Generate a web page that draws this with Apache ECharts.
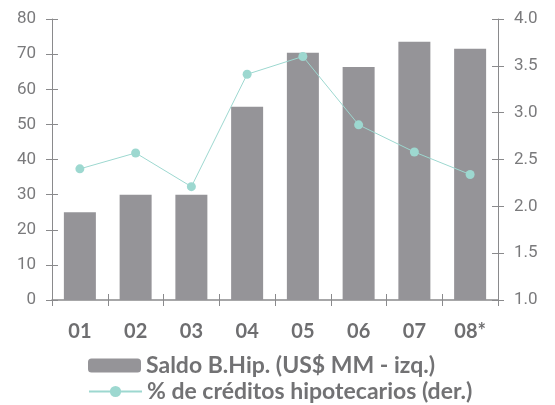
<!DOCTYPE html>
<html>
<head>
<meta charset="utf-8">
<script src="https://cdn.jsdelivr.net/npm/echarts@6/dist/echarts.min.js"></script>
<style>
    html, body { margin: 0; padding: 0; background: #fff; }
    #chart { width: 555px; height: 405px; }
</style>
</head>
<body>
<div id="chart"></div>
<script>
let years = ['01', '02', '03', '04', '05', '06', '07', '08*'];
let saldo = [25, 30, 30, 55, 70.4, 66.3, 73.5, 71.5];
let pctCreditos = [2.4, 2.57, 2.21, 3.41, 3.6, 2.87, 2.58, 2.34];
let nameBar = 'Saldo B.Hip. (US$ MM - izq.)';
let nameLine = '% de créditos hipotecarios (der.)';
// ----------------------------------------------------
let axisGray = '#8a8a8c';
let barGray = '#959498';
let teal = '#9dd8d0';
let legendText = {
    fontFamily: 'Lato',
    fontWeight: 'bold',
    fontSize: 23,
    color: '#727274'
};

let chart = echarts.init(document.getElementById('chart'));

// extra axes only draw the inside half of the crossing ticks
let option = {
    animation: false,
    grid: {
        left: 52,
        right: 57,
        top: 19,
        bottom: 105
    },
    legend: [
        {
            left: 88,
            top: 354,
            padding: 0,
            itemWidth: 53,
            itemHeight: 14,
            textStyle: legendText,
            data: [nameBar]
        },
        {
            left: 88,
            top: 380,
            padding: 0,
            itemWidth: 53,
            itemHeight: 14,
            textStyle: legendText,
            data: [nameLine]
        }
    ],
    xAxis: [
        {
            type: 'category',
            data: years,
            axisLine: { lineStyle: { color: axisGray, width: 1.5 } },
            axisTick: { show: true, length: 6, lineStyle: { color: axisGray } },
            axisLabel: {
                margin: 22,
                fontFamily: 'Lato',
                fontWeight: 'bold',
                fontSize: 20,
                color: '#6e6e70'
            }
        },
        {
            type: 'category',
            data: years,
            position: 'bottom',
            axisLine: { show: false },
            axisTick: { show: true, inside: true, length: 6, lineStyle: { color: axisGray } },
            axisLabel: { show: false }
        }
    ],
    yAxis: [
        {
            type: 'value',
            min: 0,
            max: 80,
            interval: 10,
            position: 'left',
            splitLine: { show: false },
            axisLine: { show: true, lineStyle: { color: axisGray, width: 1 } },
            axisTick: { show: true, length: 6, lineStyle: { color: axisGray } },
            axisLabel: {
                margin: 16,
                fontFamily: 'Roboto',
                fontSize: 17,
                color: '#7a7a7c'
            }
        },
        {
            type: 'value',
            min: 1,
            max: 4,
            interval: 0.5,
            position: 'right',
            splitLine: { show: false },
            axisLine: { show: true, lineStyle: { color: axisGray, width: 1 } },
            axisTick: { show: true, length: 6, lineStyle: { color: axisGray } },
            axisLabel: {
                margin: 16,
                fontFamily: 'Roboto',
                fontSize: 17,
                color: '#7a7a7c',
                formatter: function (v) { return v.toFixed(1); }
            }
        },
        {
            type: 'value',
            min: 0,
            max: 80,
            interval: 10,
            position: 'left',
            splitLine: { show: false },
            axisLine: { show: false },
            axisTick: { show: true, inside: true, length: 6, lineStyle: { color: axisGray } },
            axisLabel: { show: false }
        },
        {
            type: 'value',
            min: 1,
            max: 4,
            interval: 0.5,
            position: 'right',
            splitLine: { show: false },
            axisLine: { show: false },
            axisTick: { show: true, inside: true, length: 6, lineStyle: { color: axisGray } },
            axisLabel: { show: false }
        }
    ],
    series: [
        {
            name: nameBar,
            type: 'bar',
            data: saldo,
            barWidth: 32,
            itemStyle: { color: barGray }
        },
        {
            name: nameLine,
            type: 'line',
            yAxisIndex: 1,
            data: pctCreditos,
            symbol: 'circle',
            symbolSize: 9,
            itemStyle: { color: teal },
            lineStyle: { color: teal, width: 1 }
        }
    ]
};

chart.setOption(option);
</script>
</body>
</html>
